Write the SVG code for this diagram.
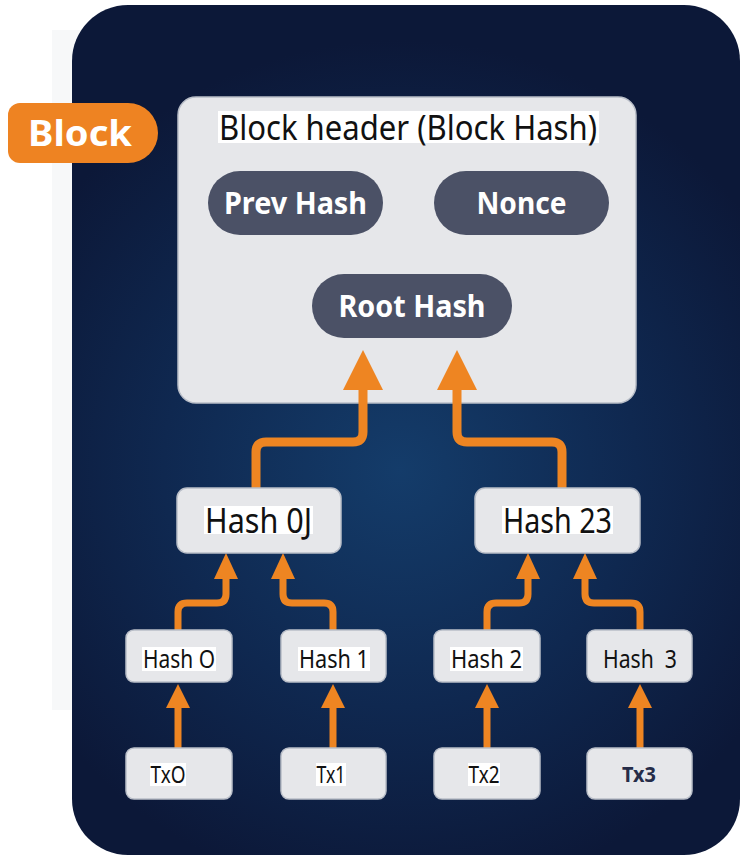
<svg xmlns="http://www.w3.org/2000/svg" width="741" height="857" viewBox="0 0 741 857">
  <defs>
    <radialGradient id="bg" cx="400" cy="470" r="430" gradientUnits="userSpaceOnUse">
      <stop offset="0" stop-color="#143c6a"/>
      <stop offset="0.55" stop-color="#0f2850"/>
      <stop offset="1" stop-color="#0c1838"/>
    </radialGradient>
    <style>
      .box { fill: #e6e7ea; stroke: #b9bec8; stroke-width: 1.5; }
      .pill { fill: #4b5166; }
      .hl { fill: #ffffff; }
      .pilltxt { font-family: "Noto Sans", "Open Sans", sans-serif; font-weight: bold; font-size: 30px; fill: #ffffff; text-anchor: middle; }
      .lbl { font-family: "Noto Sans", "DejaVu Sans", sans-serif; fill: #111111; text-anchor: middle; }
      .wire { fill: none; stroke: #ee8522; stroke-linecap: butt; }
      .head { fill: #ee8522; }
    </style>
  </defs>

  <rect width="741" height="857" fill="#ffffff"/>
  <!-- faint halo to the left of the panel -->
  <rect x="52" y="30" width="40" height="680" fill="#f7f8f9"/>

  <!-- dark panel -->
  <rect x="72" y="5" width="668" height="850" rx="56" fill="url(#bg)"/>

  <!-- Block tab -->
  <g id="block-tab">
    <path d="M20 103 H128 A30 30 0 0 1 158 133 A30 30 0 0 1 128 163 H20 A12 12 0 0 1 8 151 V115 A12 12 0 0 1 20 103 Z" fill="#ee8322"/>
    <text x="80" y="146" font-family="Noto Sans, Open Sans, sans-serif" font-weight="bold" font-size="35" fill="#ffffff" text-anchor="middle" textLength="104" lengthAdjust="spacingAndGlyphs">Block</text>
  </g>

  <!-- block header -->
  <g id="block-header">
    <rect class="box" x="178" y="97" width="458" height="306" rx="18"/>
    <rect class="hl" x="218" y="111" width="381" height="32"/>
    <text class="lbl" x="408" y="140" font-size="35" textLength="378" lengthAdjust="spacingAndGlyphs">Block header (Block Hash)</text>
  </g>

  <g id="prev-hash">
    <rect class="pill" x="208" y="171" width="175" height="64" rx="32"/>
    <text class="pilltxt" x="295.5" y="214" textLength="143" lengthAdjust="spacingAndGlyphs">Prev Hash</text>
  </g>
  <g id="nonce">
    <rect class="pill" x="434" y="171" width="175" height="64" rx="32"/>
    <text class="pilltxt" x="521.5" y="214" textLength="90" lengthAdjust="spacingAndGlyphs">Nonce</text>
  </g>
  <g id="root-hash">
    <rect class="pill" x="312" y="274" width="200" height="64" rx="32"/>
    <text class="pilltxt" x="412" y="317" textLength="147" lengthAdjust="spacingAndGlyphs">Root Hash</text>
  </g>

  <!-- connectors -->
  <g id="connectors">
    <path class="wire" stroke-width="9" d="M256 488 V452 Q256 442 266 442 H353 Q363 442 363 432 V386"/>
    <polygon class="head" points="363,350 343,390 383,390"/>
    <path class="wire" stroke-width="9" d="M562 488 V452 Q562 442 552 442 H467 Q457 442 457 432 V386"/>
    <polygon class="head" points="457,350 437,390 477,390"/>

    <path class="wire" stroke-width="7" d="M178 630 V612 Q178 603 187 603 H217 Q226 603 226 594 V576"/>
    <polygon class="head" points="226,553 214,579 238,579"/>
    <path class="wire" stroke-width="7" d="M333 630 V612 Q333 603 324 603 H292 Q283 603 283 594 V576"/>
    <polygon class="head" points="283,553 271,579 295,579"/>
    <path class="wire" stroke-width="7" d="M487 630 V612 Q487 603 496 603 H519 Q528 603 528 594 V576"/>
    <polygon class="head" points="528,553 516,579 540,579"/>
    <path class="wire" stroke-width="7" d="M640 630 V612 Q640 603 631 603 H594 Q585 603 585 594 V576"/>
    <polygon class="head" points="585,553 573,579 597,579"/>

    <path class="wire" stroke-width="7" d="M178 748 V704"/>
    <polygon class="head" points="178,684 166,708 190,708"/>
    <path class="wire" stroke-width="7" d="M333 748 V704"/>
    <polygon class="head" points="333,684 321,708 345,708"/>
    <path class="wire" stroke-width="7" d="M487 748 V704"/>
    <polygon class="head" points="487,684 475,708 499,708"/>
    <path class="wire" stroke-width="7" d="M640 748 V704"/>
    <polygon class="head" points="640,684 628,708 652,708"/>
  </g>

  <!-- intermediate hashes -->
  <g id="hash-01">
    <rect class="box" x="177" y="488" width="164" height="65" rx="10"/>
    <rect class="hl" x="204" y="506" width="109" height="28"/>
    <text class="lbl" x="258.5" y="533" font-size="34" textLength="107" lengthAdjust="spacingAndGlyphs">Hash 0J</text>
  </g>
  <g id="hash-23">
    <rect class="box" x="475" y="488" width="165" height="65" rx="10"/>
    <rect class="hl" x="502" y="506" width="111" height="28"/>
    <text class="lbl" x="557.5" y="533" font-size="34" textLength="109" lengthAdjust="spacingAndGlyphs">Hash 23</text>
  </g>

  <!-- leaf hashes -->
  <g id="hash-0">
    <rect class="box" x="126" y="630" width="106" height="52" rx="8"/>
    <rect class="hl" x="142" y="647" width="74" height="24"/>
    <text class="lbl" x="179" y="668" font-size="25" textLength="72" lengthAdjust="spacingAndGlyphs">Hash O</text>
  </g>
  <g id="hash-1">
    <rect class="box" x="281" y="630" width="105" height="52" rx="8"/>
    <rect class="hl" x="298" y="647" width="72" height="24"/>
    <text class="lbl" x="334" y="668" font-size="25" textLength="70" lengthAdjust="spacingAndGlyphs">Hash 1</text>
  </g>
  <g id="hash-2">
    <rect class="box" x="434" y="630" width="106" height="52" rx="8"/>
    <rect class="hl" x="450" y="647" width="73" height="24"/>
    <text class="lbl" x="486.5" y="668" font-size="25" textLength="71" lengthAdjust="spacingAndGlyphs">Hash 2</text>
  </g>
  <g id="hash-3">
    <rect class="box" x="587" y="630" width="105" height="52" rx="8"/>
    <text class="lbl" x="640" y="668" font-size="25" textLength="74" lengthAdjust="spacingAndGlyphs" xml:space="preserve">Hash  3</text>
  </g>

  <!-- transactions -->
  <g id="tx-0">
    <rect class="box" x="126" y="748" width="106" height="51" rx="8"/>
    <rect class="hl" x="150" y="763" width="36" height="23"/>
    <text class="lbl" x="168" y="783" font-size="23" textLength="35" lengthAdjust="spacingAndGlyphs">TxO</text>
  </g>
  <g id="tx-1">
    <rect class="box" x="281" y="748" width="105" height="51" rx="8"/>
    <rect class="hl" x="316" y="763" width="30" height="23"/>
    <text class="lbl" x="331" y="783" font-size="23" textLength="29" lengthAdjust="spacingAndGlyphs">Tx1</text>
  </g>
  <g id="tx-2">
    <rect class="box" x="434" y="748" width="106" height="51" rx="8"/>
    <rect class="hl" x="468" y="763" width="32" height="23"/>
    <text class="lbl" x="484" y="783" font-size="23" textLength="31" lengthAdjust="spacingAndGlyphs">Tx2</text>
  </g>
  <g id="tx-3">
    <rect class="box" x="587" y="748" width="105" height="51" rx="8"/>
    <text x="639" y="782" font-family="Noto Sans, Open Sans, sans-serif" font-weight="bold" font-size="21" fill="#252c48" text-anchor="middle" textLength="34" lengthAdjust="spacingAndGlyphs">Tx3</text>
  </g>
</svg>
